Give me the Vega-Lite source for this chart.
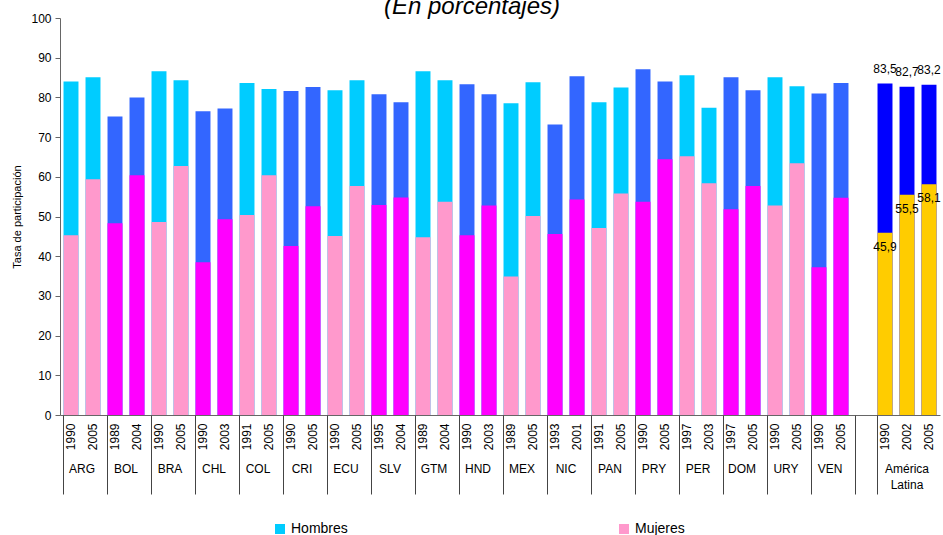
{
  "$schema": "https://vega.github.io/schema/vega-lite/v6.json",
  "autosize": {"type": "none"},
  "padding": {"left": 60, "top": 18, "right": 3, "bottom": 120},
  "width": 880,
  "height": 397,
  "config": {"font": "Liberation Sans", "view": {"stroke": null}},
  "title": {"text": "(En porcentajes)", "fontSize": 24, "fontStyle": "italic", "fontWeight": "normal", "color": "#000000", "anchor": "middle", "frame": "group", "baseline": "alphabetic", "offset": 5, "dx": -28, "dy": 31},
  "data": {"values": [
    {"pais": "ARG", "anio": "1990", "hombres": 84.0, "mujeres": 45.3},
    {"pais": "ARG", "anio": "2005", "hombres": 85.1, "mujeres": 59.4},
    {"pais": "BOL", "anio": "1989", "hombres": 75.2, "mujeres": 48.3},
    {"pais": "BOL", "anio": "2004", "hombres": 80.0, "mujeres": 60.4},
    {"pais": "BRA", "anio": "1990", "hombres": 86.6, "mujeres": 48.6},
    {"pais": "BRA", "anio": "2005", "hombres": 84.3, "mujeres": 62.7},
    {"pais": "CHL", "anio": "1990", "hombres": 76.5, "mujeres": 38.5},
    {"pais": "CHL", "anio": "2003", "hombres": 77.2, "mujeres": 49.3},
    {"pais": "COL", "anio": "1991", "hombres": 83.6, "mujeres": 50.4},
    {"pais": "COL", "anio": "2005", "hombres": 82.1, "mujeres": 60.4},
    {"pais": "CRI", "anio": "1990", "hombres": 81.6, "mujeres": 42.6},
    {"pais": "CRI", "anio": "2005", "hombres": 82.6, "mujeres": 52.6},
    {"pais": "ECU", "anio": "1990", "hombres": 81.8, "mujeres": 45.1},
    {"pais": "ECU", "anio": "2005", "hombres": 84.3, "mujeres": 57.7},
    {"pais": "SLV", "anio": "1995", "hombres": 80.8, "mujeres": 52.9},
    {"pais": "SLV", "anio": "2004", "hombres": 78.8, "mujeres": 54.8},
    {"pais": "GTM", "anio": "1989", "hombres": 86.6, "mujeres": 44.8},
    {"pais": "GTM", "anio": "2004", "hombres": 84.3, "mujeres": 53.7},
    {"pais": "HND", "anio": "1990", "hombres": 83.3, "mujeres": 45.3},
    {"pais": "HND", "anio": "2003", "hombres": 80.8, "mujeres": 52.8},
    {"pais": "MEX", "anio": "1989", "hombres": 78.5, "mujeres": 34.9},
    {"pais": "MEX", "anio": "2005", "hombres": 83.8, "mujeres": 50.1},
    {"pais": "NIC", "anio": "1993", "hombres": 73.2, "mujeres": 45.6},
    {"pais": "NIC", "anio": "2001", "hombres": 85.3, "mujeres": 54.3},
    {"pais": "PAN", "anio": "1991", "hombres": 78.8, "mujeres": 47.1},
    {"pais": "PAN", "anio": "2005", "hombres": 82.5, "mujeres": 55.8},
    {"pais": "PRY", "anio": "1990", "hombres": 87.1, "mujeres": 53.7},
    {"pais": "PRY", "anio": "2005", "hombres": 84.0, "mujeres": 64.4},
    {"pais": "PER", "anio": "1997", "hombres": 85.6, "mujeres": 65.2},
    {"pais": "PER", "anio": "2003", "hombres": 77.4, "mujeres": 58.4},
    {"pais": "DOM", "anio": "1997", "hombres": 85.1, "mujeres": 51.8},
    {"pais": "DOM", "anio": "2005", "hombres": 81.8, "mujeres": 57.7},
    {"pais": "URY", "anio": "1990", "hombres": 85.1, "mujeres": 52.8},
    {"pais": "URY", "anio": "2005", "hombres": 82.8, "mujeres": 63.4},
    {"pais": "VEN", "anio": "1990", "hombres": 81.0, "mujeres": 37.2},
    {"pais": "VEN", "anio": "2005", "hombres": 83.6, "mujeres": 54.7},
    {"pais": "América Latina", "anio": "1990", "hombres": 83.5, "mujeres": 45.9},
    {"pais": "América Latina", "anio": "2002", "hombres": 82.7, "mujeres": 55.5},
    {"pais": "América Latina", "anio": "2005", "hombres": 83.2, "mujeres": 58.1}
  ]},
  "transform": [
    {"calculate": "datum.pais + ' ' + datum.anio", "as": "id"},
    {"calculate": "datum.pais == 'América Latina' ? 'AL' : (indexof(['ARG','BRA','COL','ECU','GTM','MEX','PAN','PER','URY'], datum.pais) >= 0 ? 'a' : 'b')", "as": "grp"}
  ],
  "resolve": {"axis": {"x": "independent"}},
  "layer": [
    {
      "mark": {"type": "bar"},
      "transform": [{"calculate": "datum.grp + 'H'", "as": "ck"}],
      "encoding": {
        "x": {"field": "id", "type": "nominal",
          "scale": {"domain": ["ARG 1990","ARG 2005","BOL 1989","BOL 2004","BRA 1990","BRA 2005","CHL 1990","CHL 2003","COL 1991","COL 2005","CRI 1990","CRI 2005","ECU 1990","ECU 2005","SLV 1995","SLV 2004","GTM 1989","GTM 2004","HND 1990","HND 2003","MEX 1989","MEX 2005","NIC 1993","NIC 2001","PAN 1991","PAN 2005","PRY 1990","PRY 2005","PER 1997","PER 2003","DOM 1997","DOM 2005","URY 1990","URY 2005","VEN 1990","VEN 2005","blank","América Latina 1990","América Latina 2002","América Latina 2005"], "paddingInner": 0.32, "paddingOuter": 0.16},
          "axis": {"orient": "bottom", "title": null, "ticks": false, "labelAngle": 270, "labelPadding": 8, "labelFontSize": 12, "labelColor": "#000000", "labelOverlap": false, "domainColor": "#666666", "labelExpr": "datum.value == 'blank' ? '' : slice(datum.value, -4)"}},
        "y": {"field": "hombres", "type": "quantitative",
          "scale": {"domain": [0, 100]},
          "axis": {"title": "Tasa de participación", "titleFontSize": 11, "titleFontWeight": "normal", "titleColor": "#000000", "titlePadding": 8, "values": [0,10,20,30,40,50,60,70,80,90,100], "tickCount": 11, "labelOverlap": false, "grid": false, "tickSize": 5, "labelPadding": 4, "labelFontSize": 12, "labelColor": "#000000", "domainColor": "#666666", "tickColor": "#666666"}},
        "color": {"field": "ck", "type": "nominal",
          "scale": {"domain": ["aH","aM","bH","bM","ALH","ALM"], "range": ["#00CCFF","#FF99CC","#3366FF","#FF00FF","#0000FF","#FFCC00"]},
          "legend": {"values": ["aH","aM"], "title": null, "orient": "none", "direction": "horizontal", "columns": 2, "columnPadding": 269, "legendX": 213, "legendY": 504, "padding": 0, "symbolType": "square", "symbolSize": 100, "symbolStrokeWidth": 0, "labelFontSize": 14, "labelColor": "#000000", "labelOffset": 4, "labelExpr": "datum.value == 'aH' ? 'Hombres' : 'Mujeres'"}}
      }
    },
    {
      "mark": {"type": "bar"},
      "transform": [{"calculate": "datum.grp + 'M'", "as": "ck"}],
      "encoding": {
        "x": {"field": "id", "type": "nominal",
          "axis": {"orient": "bottom", "title": null, "domain": false, "bandPosition": 0, "tickSize": 79, "tickColor": "#444444", "labelAngle": 0, "labelBaseline": "top", "labelPadding": -31, "labelFontSize": 12, "labelColor": "#000000", "labelLineHeight": 16, "labelOverlap": false,
            "values": ["ARG 1990","BOL 1989","BRA 1990","CHL 1990","COL 1991","CRI 1990","ECU 1990","SLV 1995","GTM 1989","HND 1990","MEX 1989","NIC 1993","PAN 1991","PRY 1990","PER 1997","DOM 1997","URY 1990","VEN 1990","blank","América Latina 1990"],
            "labelExpr": "datum.value == 'blank' ? '' : (datum.value == 'América Latina 1990' ? ['América','Latina'] : split(datum.value, ' ')[0])",
            "labelOffset": {"condition": {"test": "datum.value == 'América Latina 1990'", "value": 22}, "value": 11},
            "encode": {"labels": {"update": {"align": {"value": "center"}}}}}},
        "y": {"field": "mujeres", "type": "quantitative",
          "axis": {"title": "Tasa de participación", "titleFontSize": 11, "titleFontWeight": "normal", "titleColor": "#000000", "titlePadding": 8, "values": [0,10,20,30,40,50,60,70,80,90,100], "tickCount": 11, "labelOverlap": false, "grid": false, "tickSize": 5, "labelPadding": 4, "labelFontSize": 12, "labelColor": "#000000", "domainColor": "#666666", "tickColor": "#666666"}},
        "color": {"field": "ck", "type": "nominal"}
      }
    },
    {
      "transform": [
        {"filter": "datum.pais == 'América Latina'"},
        {"calculate": "replace(format(datum.hombres, '.1f'), '.', ',')", "as": "lab"}
      ],
      "mark": {"type": "text", "fontSize": 12, "color": "#000000", "baseline": "bottom", "dy": -8},
      "encoding": {
        "x": {"field": "id", "type": "nominal", "axis": null},
        "y": {"field": "hombres", "type": "quantitative"},
        "text": {"field": "lab"}
      }
    },
    {
      "transform": [
        {"filter": "datum.pais == 'América Latina'"},
        {"calculate": "replace(format(datum.mujeres, '.1f'), '.', ',')", "as": "lab"}
      ],
      "mark": {"type": "text", "fontSize": 12, "color": "#000000", "baseline": "middle", "dy": 14},
      "encoding": {
        "x": {"field": "id", "type": "nominal", "axis": null},
        "y": {"field": "mujeres", "type": "quantitative"},
        "text": {"field": "lab"}
      }
    }
  ]
}
